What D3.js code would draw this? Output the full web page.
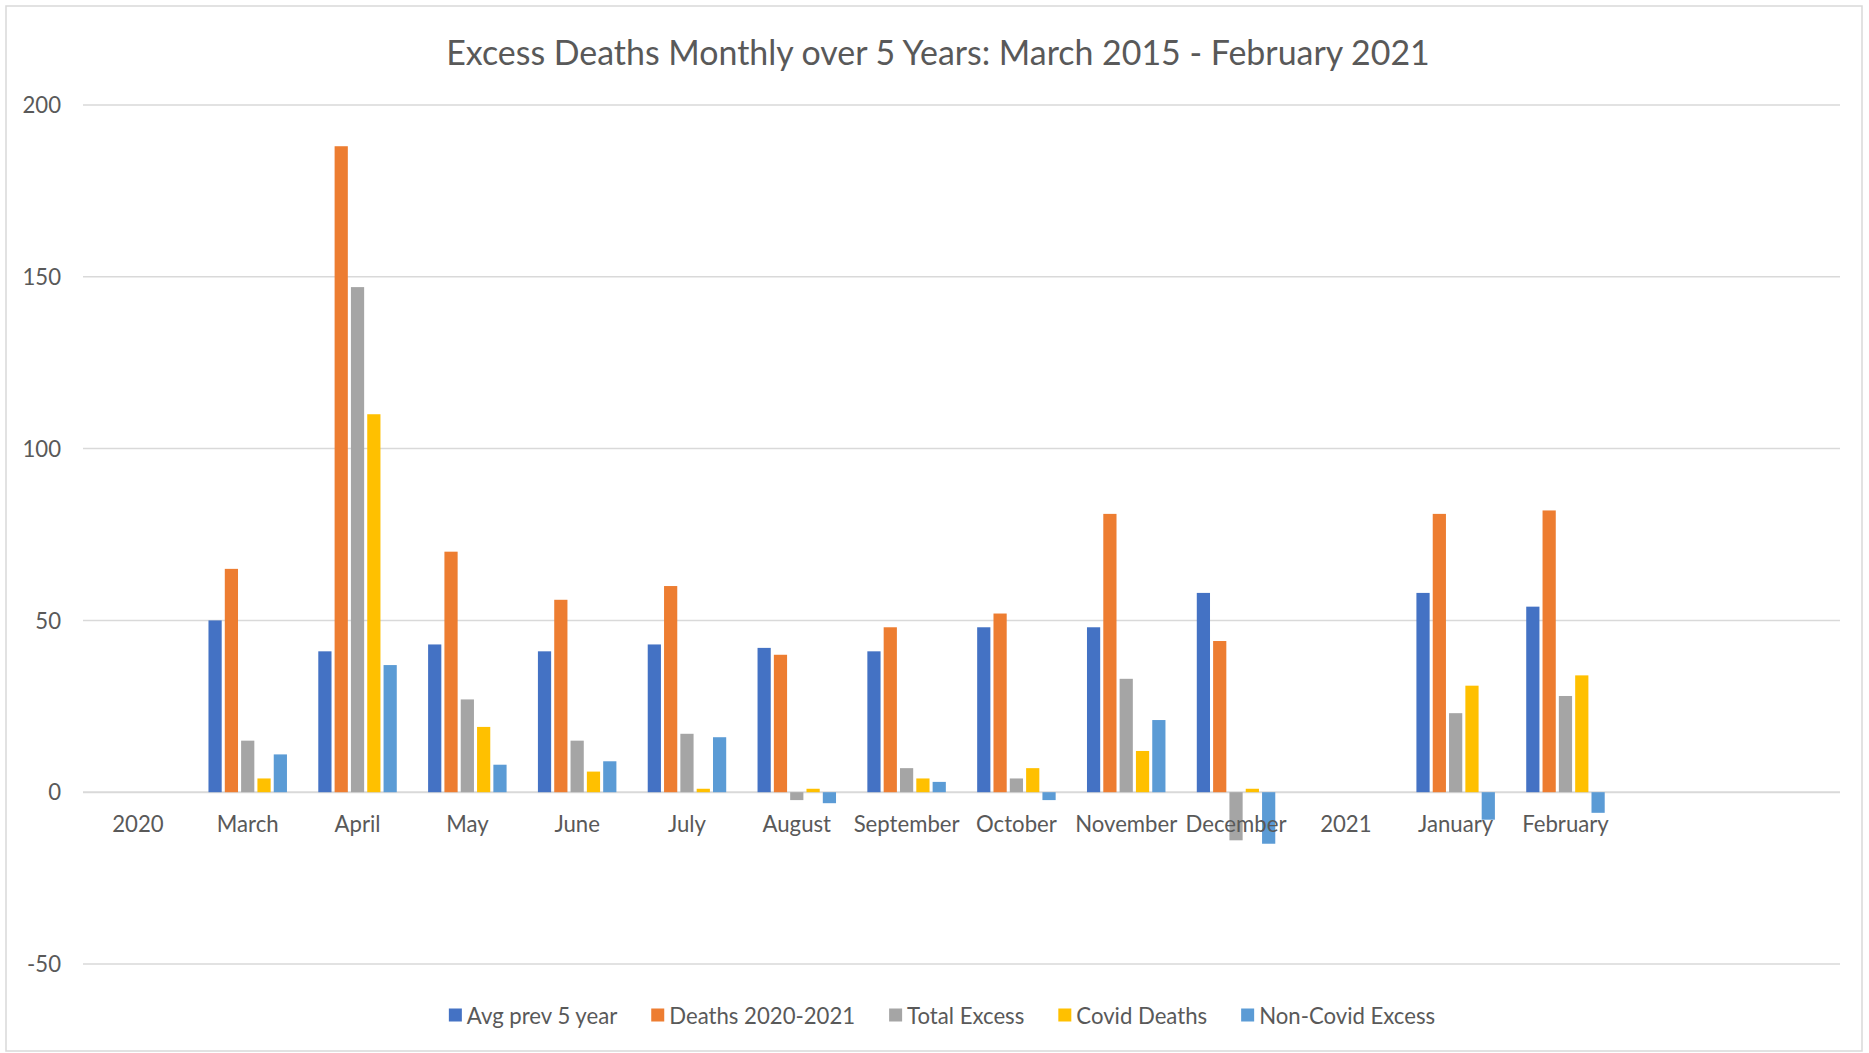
<!DOCTYPE html>
<html>
<head>
<meta charset="utf-8">
<script src="https://cdn.jsdelivr.net/npm/d3@7"></script>
<style>
  html, body { margin: 0; padding: 0; background: #fff; }
  svg { display: block; }
  text { font-family: Lato, "Open Sans", sans-serif; fill: #595959; }
</style>
</head>
<body>
<svg id="chart" width="1869" height="1053"></svg>
<script>
// ---------- data ----------
const chartTitle = "Excess Deaths Monthly over 5 Years: March 2015 - February 2021";
const categories = ["2020", "March", "April", "May", "June", "July", "August", "September",
  "October", "November", "December", "2021", "January", "February", "", ""];
const seriesNames = ["Avg prev 5 year", "Deaths 2020-2021", "Total Excess", "Covid Deaths", "Non-Covid Excess"];
const seriesColors = ["#4472C4", "#ED7D31", "#A5A5A5", "#FFC000", "#5B9BD5"];
const avgPrev5Year   = [null, 50, 41, 43, 41, 43, 42, 41, 48, 48, 58, null, 58, 54, null, null];
const deaths20202021 = [null, 65, 188, 70, 56, 60, 40, 48, 52, 81, 44, null, 81, 82, null, null];
const totalExcess    = [null, 15, 147, 27, 15, 17, -2.3, 7, 4, 33, -14, null, 23, 28, null, null];
const covidDeaths    = [null, 4, 110, 19, 6, 1, 1, 4, 7, 12, 1, null, 31, 34, null, null];
const nonCovidExcess = [null, 11, 37, 8, 9, 16, -3.2, 3, -2.3, 21, -15, null, -8, -6, null, null];
const yTicks = [-50, 0, 50, 100, 150, 200];
const yTickLabels = ["-50", "0", "50", "100", "150", "200"];

const seriesValues = [avgPrev5Year, deaths20202021, totalExcess, covidDeaths, nonCovidExcess];

// ---------- layout ----------
const svg = d3.select("#chart");
const plot = { left: 83, right: 1840, top: 105, bottom: 964 };

// chart border
svg.append("rect")
  .attr("x", 6).attr("y", 6).attr("width", 1856).attr("height", 1045)
  .attr("fill", "#fff").attr("stroke", "#D9D9D9").attr("stroke-width", 1.5);

// helper: fit font size to target width
function fitSize(text, targetWidth, weight) {
  const t = svg.append("text").attr("font-size", 100).attr("font-weight", weight || 400).text(text);
  const w = t.node().getComputedTextLength();
  t.remove();
  return 100 * targetWidth / w;
}

const labelSize = fitSize("September", 106);
const titleSize = fitSize(chartTitle, 984);

// scales
const x = d3.scaleBand().domain(d3.range(categories.length)).range([plot.left, plot.right]).paddingInner(0).paddingOuter(0);
const xs = d3.scaleBand().domain(d3.range(seriesNames.length)).range([0, x.bandwidth()]).paddingInner(0.19).paddingOuter(0.96);
const y = d3.scaleLinear().domain([-50, 200]).range([plot.bottom, plot.top]);

// gridlines
svg.append("g").selectAll("line").data(yTicks).join("line")
  .attr("x1", plot.left).attr("x2", plot.right)
  .attr("y1", d => y(d)).attr("y2", d => y(d))
  .attr("stroke", "#D9D9D9").attr("stroke-width", d => d === 0 ? 2 : 1.5);

// y axis labels
const yAxis = svg.append("g").attr("transform", `translate(${61},0)`)
  .call(d3.axisLeft(y).tickValues(yTicks).tickSize(0).tickPadding(0)
    .tickFormat((d, i) => yTickLabels[i]));
yAxis.select(".domain").remove();
yAxis.selectAll("text").attr("font-size", labelSize).attr("fill", "#595959")
  .attr("font-family", "Lato, 'Open Sans', sans-serif").attr("dy", "0.35em");

// bars
const groups = svg.append("g").selectAll("g").data(categories.map((c, i) => i)).join("g")
  .attr("transform", i => `translate(${x(i)},0)`);
groups.selectAll("rect")
  .data(i => seriesValues.map((vals, s) => ({ s, v: vals[i] })).filter(d => d.v !== null))
  .join("rect")
  .attr("x", d => xs(d.s))
  .attr("width", xs.bandwidth())
  .attr("y", d => y(Math.max(0, d.v)))
  .attr("height", d => Math.abs(y(d.v) - y(0)))
  .attr("fill", d => seriesColors[d.s]);

// x axis labels
const xAxis = svg.append("g").attr("transform", `translate(0,${y(0)})`)
  .call(d3.axisBottom(x).tickSize(0).tickPadding(0).tickFormat(i => categories[i]));
xAxis.select(".domain").remove();
xAxis.selectAll("text").attr("font-size", labelSize).attr("fill", "#595959")
  .attr("font-family", "Lato, 'Open Sans', sans-serif")
  .attr("dy", null).attr("y", 832 - y(0));

// title
svg.append("text").attr("x", 938).attr("y", 64.5).attr("text-anchor", "middle")
  .attr("font-size", titleSize).text(chartTitle);

// legend
const legend = svg.append("g");
const sw = 13, swGap = 5, itemGap = 34;
const items = legend.selectAll("g").data(seriesNames).join("g");
items.append("rect").attr("width", sw).attr("height", sw).attr("y", -sw / 2 - 1)
  .attr("fill", (d, i) => seriesColors[i]);
items.append("text").attr("x", sw + swGap).attr("dy", "0.35em")
  .attr("font-size", labelSize).text(d => d);
const widths = [];
items.each(function () {
  const tw = d3.select(this).select("text").node().getComputedTextLength();
  widths.push(sw + swGap + tw);
});
const totalW = d3.sum(widths) + itemGap * (widths.length - 1);
let startX = 942 - totalW / 2;
items.attr("transform", (d, i) => {
  const tx = startX; startX += widths[i] + itemGap;
  return `translate(${tx},1016)`;
});
</script>
</body>
</html>
